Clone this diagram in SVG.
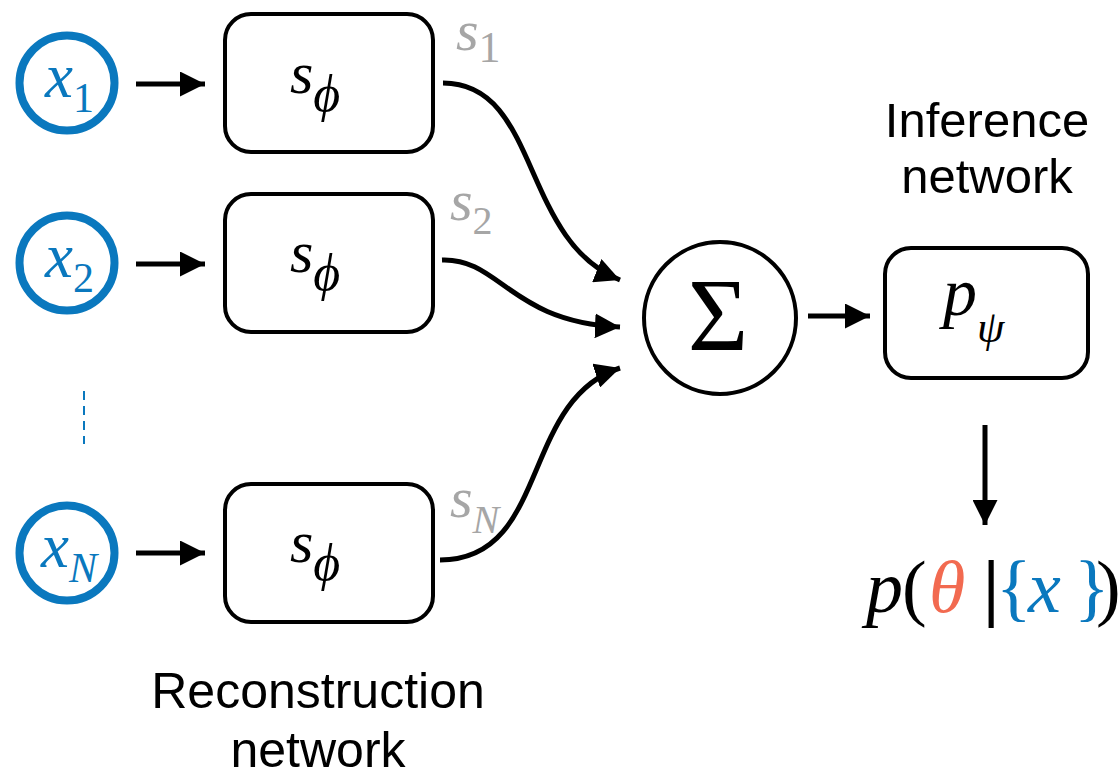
<svg xmlns="http://www.w3.org/2000/svg" width="1118" height="778" viewBox="0 0 1118 778">
  <defs>
    <marker id="ah" viewBox="0 0 10 10" refX="10" refY="5" markerWidth="5" markerHeight="5" orient="auto" markerUnits="strokeWidth">
      <path d="M0,0 L10,5 L0,10 Z" fill="#000"/>
    </marker>
  </defs>
  <rect width="1118" height="778" fill="#fff"/>

  <!-- inputs -->
  <g id="x1">
    <circle cx="67" cy="83" r="47.5" fill="#fff" stroke="#0a78be" stroke-width="8"/>
    <text x="45" y="97" font-family="'Liberation Serif'" font-style="italic" font-size="63" fill="#0a78be">x<tspan font-style="normal" font-size="42" dy="15">1</tspan></text>
  </g>
  <g id="x2">
    <circle cx="67" cy="263" r="47.5" fill="#fff" stroke="#0a78be" stroke-width="8"/>
    <text x="45" y="277" font-family="'Liberation Serif'" font-style="italic" font-size="63" fill="#0a78be">x<tspan font-style="normal" font-size="42" dy="15">2</tspan></text>
  </g>
  <g id="xN">
    <circle cx="67" cy="553" r="47.5" fill="#fff" stroke="#0a78be" stroke-width="8"/>
    <text x="41" y="567" font-family="'Liberation Serif'" font-style="italic" font-size="63" fill="#0a78be">x<tspan font-size="42" dy="15">N</tspan></text>
  </g>
  <g id="dots">
    <line x1="84" y1="391" x2="84" y2="444" stroke="#0a78be" stroke-width="2" stroke-dasharray="9,6"/>
  </g>

  <!-- reconstruction boxes -->
  <g id="s1">
    <rect x="225" y="14" width="208" height="138" rx="26" fill="#fff" stroke="#000" stroke-width="4"/>
    <text x="290" y="93" font-family="'Liberation Serif'" font-style="italic" font-size="60">s<tspan font-size="52" dy="18">ϕ</tspan></text>
    <text x="456" y="50" font-family="'Liberation Serif'" font-style="italic" font-size="58" fill="#a6a6a6">s<tspan font-style="normal" font-size="44" dy="12">1</tspan></text>
  </g>
  <g id="s2">
    <rect x="225" y="194" width="208" height="138" rx="26" fill="#fff" stroke="#000" stroke-width="4"/>
    <text x="290" y="272" font-family="'Liberation Serif'" font-style="italic" font-size="60">s<tspan font-size="52" dy="18">ϕ</tspan></text>
    <text x="450" y="220" font-family="'Liberation Serif'" font-style="italic" font-size="58" fill="#a6a6a6">s<tspan font-style="normal" font-size="40" dy="14">2</tspan></text>
  </g>
  <g id="sN">
    <rect x="225" y="484" width="208" height="138" rx="26" fill="#fff" stroke="#000" stroke-width="4"/>
    <text x="290" y="562" font-family="'Liberation Serif'" font-style="italic" font-size="60">s<tspan font-size="52" dy="18">ϕ</tspan></text>
    <text x="450" y="517" font-family="'Liberation Serif'" font-style="italic" font-size="58" fill="#a6a6a6">s<tspan font-size="40" dy="16">N</tspan></text>
  </g>

  <!-- aggregation -->
  <g id="sum">
    <circle cx="720" cy="318" r="76" fill="#fff" stroke="#000" stroke-width="4"/>
    <text x="718" y="350" text-anchor="middle" font-family="'Liberation Serif'" font-size="104">Σ</text>
  </g>

  <!-- inference -->
  <g id="pnet">
    <rect x="885" y="248" width="203" height="130" rx="26" fill="#fff" stroke="#000" stroke-width="4"/>
    <text x="943" y="315" font-family="'Liberation Serif'" font-style="italic" font-size="68">p<tspan font-size="44" dy="27">ψ</tspan></text>
    <text x="987" y="137" text-anchor="middle" font-family="'Liberation Sans'" font-size="49">Inference</text>
    <text x="987" y="193" text-anchor="middle" font-family="'Liberation Sans'" font-size="49">network</text>
  </g>

  <g id="posterior">
    <text y="612" font-family="'Liberation Serif'" font-style="italic" font-size="74"><tspan x="866">p</tspan><tspan font-style="normal" x="902">(</tspan><tspan fill="#f26a50" x="929">θ</tspan><tspan font-style="normal" font-weight="bold" x="983">|</tspan><tspan font-style="normal" fill="#0a78be" x="996">{</tspan><tspan fill="#0a78be" x="1028">x</tspan><tspan font-style="normal" fill="#0a78be" x="1074">}</tspan><tspan font-style="normal" x="1096">)</tspan></text>
  </g>

  <g id="recon-label">
    <text x="318" y="708" text-anchor="middle" font-family="'Liberation Sans'" font-size="50">Reconstruction</text>
    <text x="318" y="767" text-anchor="middle" font-family="'Liberation Sans'" font-size="50">network</text>
  </g>

  <!-- connectors -->
  <g id="connectors" fill="none" stroke="#000" stroke-width="5" marker-end="url(#ah)">
    <path d="M136,84 H205"/>
    <path d="M136,264 H205"/>
    <path d="M136,553 H205"/>
    <path d="M443,83 C540,83 520,240 620,280"/>
    <path d="M442,260 C500,258 510,322 620,327"/>
    <path d="M440,560 C550,560 520,400 620,368"/>
    <path d="M808,316 H870"/>
    <path d="M985,425 V525"/>
  </g>
</svg>
